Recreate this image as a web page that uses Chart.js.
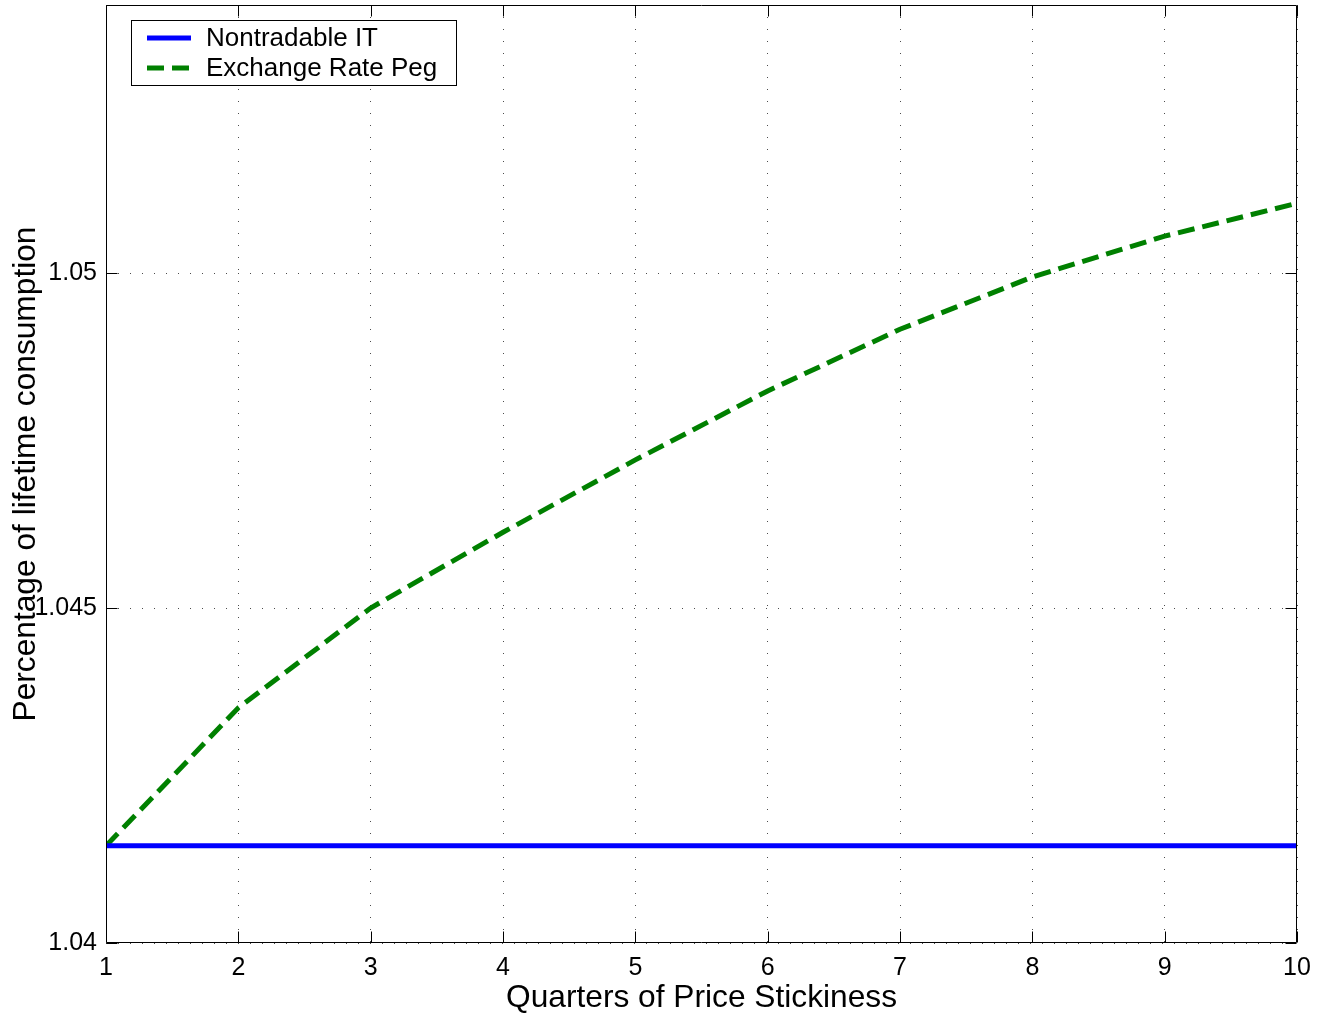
<!DOCTYPE html>
<html>
<head>
<meta charset="utf-8">
<title>Welfare under price stickiness</title>
<script src="https://cdn.jsdelivr.net/npm/chart.js@4.4.1/dist/chart.umd.min.js"></script>
<style>
  html, body { margin: 0; padding: 0; background: #ffffff; }
  canvas { display: block; }
</style>
</head>
<body>
<canvas id="chart" width="1328" height="1023"></canvas>
<script>
// Quarters of price stickiness on the horizontal axis
const quarters = [1, 2, 3, 4, 5, 6, 7, 8, 9, 10];

// Welfare (percentage of lifetime consumption) for each policy
const nontradableIT = [1.04145, 1.04145, 1.04145, 1.04145, 1.04145, 1.04145, 1.04145, 1.04145, 1.04145, 1.04145];
const exchangeRatePeg = [1.04145, 1.04351, 1.04500, 1.04613, 1.04721, 1.04824, 1.04916, 1.04994, 1.05055, 1.05104];

// Axis ticks
const xTicks = [1, 2, 3, 4, 5, 6, 7, 8, 9, 10];
const yTicks = [1.04, 1.045, 1.05];
const yTickLabels = ['1.04', '1.045', '1.05'];

const seriesNames = ['Nontradable IT', 'Exchange Rate Peg'];

const FONT = '"Liberation Sans", Arial, Helvetica, sans-serif';

// Box frame with inward tick marks on all four sides, plus axis titles and legend
const framePlugin = {
  id: 'frame',
  afterDatasetsDraw(chart) {
    const { ctx, chartArea: a, scales } = chart;
    ctx.save();
    ctx.strokeStyle = '#000';
    ctx.lineWidth = 1;
    const L = Math.round(a.left) + 0.5, R = Math.round(a.right) - 0.5;
    const T = Math.round(a.top) + 0.5, B = Math.round(a.bottom) - 0.5;
    ctx.beginPath();
    ctx.rect(L, T, R - L, B - T);
    const tl = 11;
    xTicks.forEach(v => {
      const x = Math.round(scales.x.getPixelForValue(v)) + 0.5;
      ctx.moveTo(x, B); ctx.lineTo(x, B - tl);
      ctx.moveTo(x, T); ctx.lineTo(x, T + tl);
    });
    yTicks.forEach(v => {
      const y = Math.round(scales.y.getPixelForValue(v)) + 0.5;
      ctx.moveTo(L, y); ctx.lineTo(L + tl, y);
      ctx.moveTo(R, y); ctx.lineTo(R - tl, y);
    });
    ctx.stroke();
    ctx.restore();
  },
  afterDraw(chart) {
    const { ctx, chartArea: a } = chart;
    ctx.save();
    ctx.fillStyle = '#000';
    ctx.font = '31.7px ' + FONT;
    ctx.textAlign = 'center';
    ctx.textBaseline = 'middle';
    // x title
    ctx.fillText('Quarters of Price Stickiness', (a.left + a.right) / 2, 998);
    // y title
    ctx.save();
    ctx.translate(26, (a.top + a.bottom) / 2);
    ctx.rotate(-Math.PI / 2);
    ctx.fillText('Percentage of lifetime consumption', 0, 0);
    ctx.restore();

    // legend box
    const bx = 131.5, by = 20.5, bw = 325, bh = 65;
    ctx.fillStyle = '#fff';
    ctx.fillRect(bx, by, bw, bh);
    ctx.strokeStyle = '#000';
    ctx.lineWidth = 1;
    ctx.strokeRect(bx, by, bw, bh);
    const ds = chart.data.datasets;
    const rows = [38, 68];
    ds.forEach((d, i) => {
      ctx.save();
      ctx.strokeStyle = d.borderColor;
      ctx.lineWidth = d.borderWidth;
      ctx.setLineDash(d.borderDash || []);
      ctx.beginPath();
      ctx.moveTo(147, rows[i]);
      ctx.lineTo(191, rows[i]);
      ctx.stroke();
      ctx.restore();
      ctx.fillStyle = '#000';
      ctx.font = '26px ' + FONT;
      ctx.textAlign = 'left';
      ctx.textBaseline = 'middle';
      ctx.fillText(d.label, 206, rows[i] + 1);
    });
    ctx.restore();
  }
};

new Chart(document.getElementById('chart'), {
  type: 'line',
  data: {
    labels: quarters,
    datasets: [
      {
        label: seriesNames[0],
        data: quarters.map((q, i) => ({ x: q, y: nontradableIT[i] })),
        borderColor: '#0000ff',
        borderWidth: 5,
        pointRadius: 0,
        tension: 0,
        fill: false
      },
      {
        label: seriesNames[1],
        data: quarters.map((q, i) => ({ x: q, y: exchangeRatePeg[i] })),
        borderColor: '#008000',
        borderWidth: 5,
        borderDash: [17, 8],
        borderCapStyle: 'butt',
        pointRadius: 0,
        tension: 0,
        fill: false
      }
    ]
  },
  options: {
    responsive: false,
    animation: false,
    devicePixelRatio: 1,
    layout: { padding: { top: 5, right: 31, left: 0, bottom: 0 } },
    plugins: {
      legend: { display: false },
      tooltip: { enabled: false },
      title: { display: false }
    },
    scales: {
      x: {
        type: 'linear',
        min: 1,
        max: 10,
        afterBuildTicks(scale) { scale.ticks = xTicks.map(v => ({ value: v })); },
        afterFit(scale) {
          scale.height = 80;
          scale.paddingLeft = 0;
          scale.paddingRight = 0;
        },
        ticks: {
          color: '#000',
          font: { family: FONT, size: 25 },
          padding: 10,
          maxRotation: 0,
          autoSkip: false,
          callback: v => String(v)
        },
        grid: { color: 'rgba(0,0,0,0.7)', lineWidth: 1, drawTicks: false },
        border: { display: false, dash: [1, 11] }
      },
      y: {
        type: 'linear',
        min: 1.04,
        max: 1.054,
        afterBuildTicks(scale) { scale.ticks = yTicks.map(v => ({ value: v })); },
        afterFit(scale) {
          scale.width = 106;
          scale.paddingTop = 0;
          scale.paddingBottom = 0;
        },
        ticks: {
          color: '#000',
          font: { family: FONT, size: 25 },
          padding: 9,
          autoSkip: false,
          callback: (v) => {
            const i = yTicks.findIndex(t => Math.abs(t - v) < 1e-9);
            return i >= 0 ? yTickLabels[i] : '';
          }
        },
        grid: { color: 'rgba(0,0,0,0.7)', lineWidth: 1, drawTicks: false },
        border: { display: false, dash: [1, 11] }
      }
    }
  },
  plugins: [framePlugin]
});
</script>
</body>
</html>
